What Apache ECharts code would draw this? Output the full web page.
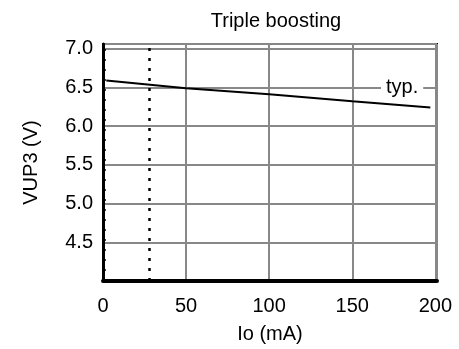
<!DOCTYPE html>
<html>
<head>
<meta charset="utf-8">
<script src="https://cdn.jsdelivr.net/npm/echarts@6/dist/echarts.min.js"></script>
<style>
  html, body { margin: 0; padding: 0; background: #fff; }
  #chart { width: 459px; height: 349px; }
</style>
</head>
<body>
<div id="chart"></div>
<script>
// Io (mA) vs VUP3 (V), typical curve
const ioValues = [2, 50, 100, 150, 197]
const vupValues = [6.59, 6.49, 6.41, 6.32, 6.24]
const yTickLabels = [4.5, 5.0, 5.5, 6.0, 6.5, 7.0]
const markerIo = 28
const typLabelPoint = [[180, 6.5]]

const chart = echarts.init(document.getElementById('chart'))
const font = 'Liberation Sans, Arial, sans-serif'

chart.setOption({
  animation: false,
  title: {
    text: 'Triple boosting',
    left: 271,
    top: 6,
    textAlign: 'center',
    textStyle: { fontFamily: font, fontSize: 20, fontWeight: 'normal', color: '#000' }
  },
  grid: { left: 103, right: 22, top: 44, bottom: 65, show: true, borderColor: '#000', borderWidth: 2 },
  xAxis: {
    type: 'value',
    min: 0,
    max: 201,
    interval: 50,
    name: 'Io (mA)',
    nameLocation: 'middle',
    nameGap: 43,
    nameTextStyle: { fontFamily: font, fontSize: 20, color: '#000' },
    axisLine: { show: true, lineStyle: { color: '#000', width: 4 } },
    axisTick: { show: false },
    axisLabel: {
      fontFamily: font, fontSize: 20, color: '#000', margin: 15,
      formatter: v => (v % 50 === 0 && v <= 200 ? String(v) : '')
    },
    splitLine: { show: true, lineStyle: { color: '#888', width: 2 } }
  },
  yAxis: {
    type: 'value',
    min: 4,
    max: 7.06,
    interval: 0.5,
    name: 'VUP3 (V)',
    nameLocation: 'middle',
    nameGap: 62,
    nameTextStyle: { fontFamily: font, fontSize: 20, color: '#000' },
    axisLine: { show: true, lineStyle: { color: '#000', width: 3 } },
    axisTick: { show: false },
    axisLabel: {
      fontFamily: font, fontSize: 20, color: '#000', margin: 10,
      formatter: v => (yTickLabels.some(t => Math.abs(t - v) < 1e-6) ? v.toFixed(1) : '')
    },
    splitLine: { show: true, lineStyle: { color: '#888', width: 2 } }
  },
  series: [
    {
      type: 'line',
      data: ioValues.map((x, i) => [x, vupValues[i]]),
      showSymbol: false,
      lineStyle: { color: '#000', width: 2 },
      markLine: {
        silent: true,
        symbol: 'none',
        label: { show: false },
        data: [
          { xAxis: markerIo, lineStyle: { color: '#000', width: 2.5, type: [3, 7] } },
          { xAxis: 1, lineStyle: { color: '#000', width: 1.5, type: [2, 8] } }
        ]
      }
    },
    {
      type: 'scatter',
      data: typLabelPoint,
      symbolSize: 1,
      itemStyle: { color: '#fff', opacity: 1 },
      label: {
        show: true,
        position: 'inside',
        formatter: 'typ.',
        fontFamily: font,
        fontSize: 20,
        color: '#000',
        opacity: 1,
        backgroundColor: '#fff',
        padding: [0, 5]
      }
    }
  ]
})
</script>
</body>
</html>
